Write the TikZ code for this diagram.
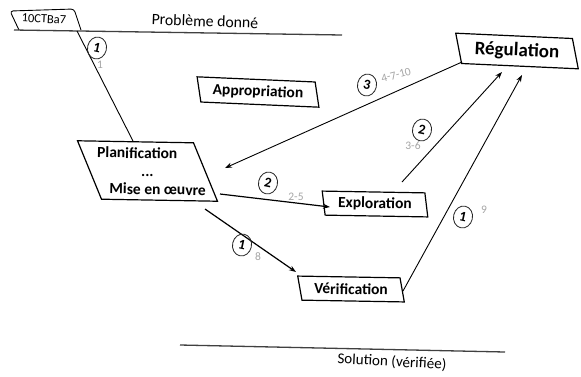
\documentclass[tikz,border=0pt]{standalone}
\usepackage{fontspec}
\setmainfont{Carlito}
\usetikzlibrary{shapes.geometric,arrows.meta}
\begin{document}
\begin{tikzpicture}[x=1pt,y=-1pt,
  box/.style={trapezium, draw, line width=1.2pt, trapezium stretches body, inner sep=0pt,
    font=\bfseries\fontsize{15.5}{18}\selectfont},
  num/.style={ellipse, draw=black!85, line width=0.8pt, minimum width=19pt, minimum height=22pt,
    inner sep=0pt, font=\bfseries\fontsize{14}{14}\selectfont},
  glab/.style={text=black!35, font=\fontsize{11.5}{11.5}\selectfont, inner sep=0pt},
  arr/.style={-{Stealth[length=7pt,width=5pt]}, line width=0.9pt},
  rule/.style={draw=black!75, line width=1.3pt},
]
\useasboundingbox (0,0) rectangle (581,376);
\fill[white] (0,0) rectangle (581,376);

% header
\draw[line width=0.9pt, rounded corners=3pt] (19,30) -- (10,11) -- (74,9) -- (81,30);
\node[font=\fontsize{12.5}{12.5}\selectfont, rotate=-3] (tag) at (44,19) {10CTBa7};
\coordinate (hl) at (14,30);
\coordinate (hr) at (342,35);
\draw[rule] (hl) -- (hr);
\node[font=\fontsize{15.8}{16}\selectfont, rotate=-2] (prob) at (205,21) {Problème donné};

% footer
\coordinate (fl) at (180,345);
\coordinate (fr) at (505,352);
\draw[rule] (fl) -- (fr);
\node[font=\fontsize{15.1}{15}\selectfont, rotate=-3] (sol) at (392,362) {Solution (vérifiée)};

% boxes
\node[box, trapezium left angle=118, trapezium right angle=62, minimum width=141pt,
      minimum height=58pt, rotate=-1, align=center] (plan) at (147.5,171)
  {\makebox[0pt]{\hspace*{-21pt}Planification}\\\makebox[0pt]{...}\\\makebox[0pt]{\hspace*{21pt}Mise en œuvre}};
\node[box, trapezium left angle=110, trapezium right angle=70, minimum width=123pt,
      minimum height=25pt, rotate=-2.5] (appr) at (258,92) {\makebox[0pt]{Appropriation}};
\node[box, trapezium left angle=113.5, trapezium right angle=66.5, minimum width=124pt,
      minimum height=30pt, rotate=-2.6, font=\bfseries\fontsize{19}{19}\selectfont] (reg) at (517,51) {\makebox[0pt]{Régulation}};
\node[box, trapezium left angle=104, trapezium right angle=76, minimum width=106pt,
      minimum height=24pt, rotate=-1] (expl) at (375,204) {\makebox[0pt]{Exploration}};
\node[box, trapezium left angle=113, trapezium right angle=67, minimum width=107pt,
      minimum height=24pt, rotate=-1] (verif) at (351,289) {\makebox[0pt]{Vérification}};

% connector end points
\coordinate (a0) at (77,31);  \coordinate (a1) at (133,141);
\coordinate (b0) at (462,62); \coordinate (b1) at (225,168);
\coordinate (c0) at (220,194); \coordinate (c1) at (330,207);
\coordinate (d0) at (205,209); \coordinate (d1) at (296,272);
\coordinate (e0) at (402,182); \coordinate (e1) at (502,72);
\coordinate (f0) at (403,291); \coordinate (f1) at (522,75);

\draw[line width=0.9pt] (a0) -- (a1);
\draw[arr] (b0) -- (b1);
\draw[arr, line width=1.2pt] (c0) -- (c1);
\draw[arr, line width=1.2pt] (d0) -- (d1);
\draw[arr] (e0) -- (e1);
\draw[arr] (f0) -- (f1);

% labels
\node[num, rotate=-12] (n1) at (97,48) {1};
\node[glab] (g1) at (100,65) {1};
\node[num, rotate=-12] (n3) at (367,85) {3};
\node[glab, rotate=15] (g3) at (396,75) {4-7-10};
\node[num, rotate=-12] (n2a) at (268,183) {2};
\node[glab] (g2a) at (296,197) {2-5};
\node[num, rotate=-12] (n1b) at (242,245) {1};
\node[glab] (g1b) at (258,257) {8};
\node[num, rotate=-12] (n2b) at (422,130) {2};
\node[glab] (g2b) at (413,146) {3-6};
\node[num, rotate=-12] (n1c) at (463,217) {1};
\node[glab] (g1c) at (484,210) {9};
\end{tikzpicture}
\end{document}
